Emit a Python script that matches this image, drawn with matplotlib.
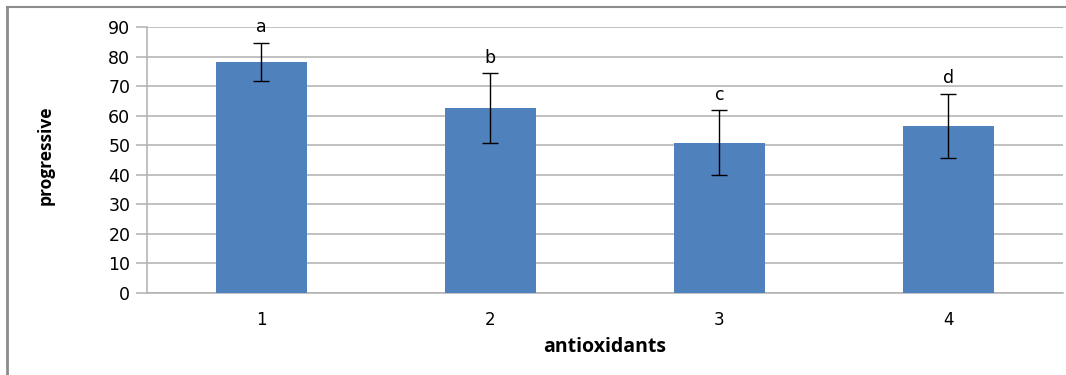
import matplotlib.pyplot as plt
from matplotlib.lines import Line2D

plt.rcParams['font.family'] = ['DejaVu Sans']

# data
categories = ["1", "2", "3", "4"]
means = [78.4, 62.6, 50.9, 56.6]
errors = [6.4, 11.9, 11.0, 11.0]
letters = ["a", "b", "c", "d"]
y_ticks = [0, 10, 20, 30, 40, 50, 60, 70, 80, 90]

fig = plt.figure(figsize=(10.66, 3.75), dpi=100)
ax = fig.add_axes([0.1379, 0.2187, 0.8591, 0.708])

x = list(range(1, len(categories) + 1))
ax.bar(x, means, width=0.4, color="#4F81BD", zorder=3)
ax.errorbar(x, means, yerr=errors, fmt="none", ecolor="black",
            elinewidth=1, capsize=6, capthick=1, zorder=4)

for xi, m, e, lab in zip(x, means, errors, letters):
    ax.text(xi, m + e + 2.2, lab, ha="center", va="bottom", fontsize=12.5, color="black")

ax.set_xlim(0.5, 4.5)
ax.set_ylim(0, 90)
ax.set_xticks(x)
ax.set_xticklabels(categories, fontsize=12)
ax.set_yticks(y_ticks)
ax.set_yticklabels([str(t) for t in y_ticks], fontsize=12.5)
ax.yaxis.grid(True, color="#b0b0b0", linewidth=1.1, zorder=0)
ax.set_axisbelow(True)

for s in ["top", "right"]:
    ax.spines[s].set_visible(False)
ax.spines["left"].set_color("#b0b0b0")
ax.spines["bottom"].set_color("#b0b0b0")
ax.spines["left"].set_linewidth(1.1)
ax.spines["bottom"].set_linewidth(1.1)
ax.tick_params(axis="y", length=8, color="#b0b0b0", width=1.1, pad=4)
ax.tick_params(axis="x", length=0, pad=13)

ax.set_xlabel("antioxidants", fontsize=14, fontweight="bold", family="Open Sans", labelpad=6)
ax.set_ylabel("progressive", fontsize=12.5, fontweight="bold", family="Open Sans")
ax.yaxis.set_label_coords(-0.101, 0.52)

# outer frame (top and left edges visible)
fig.add_artist(Line2D([0.0066, 0.0066], [0.0, 0.981], transform=fig.transFigure,
                      color="#8c8c8c", linewidth=2))
fig.add_artist(Line2D([0.0066, 1.0], [0.981, 0.981], transform=fig.transFigure,
                      color="#8c8c8c", linewidth=1.5))

fig.savefig("out.png", dpi=100)
